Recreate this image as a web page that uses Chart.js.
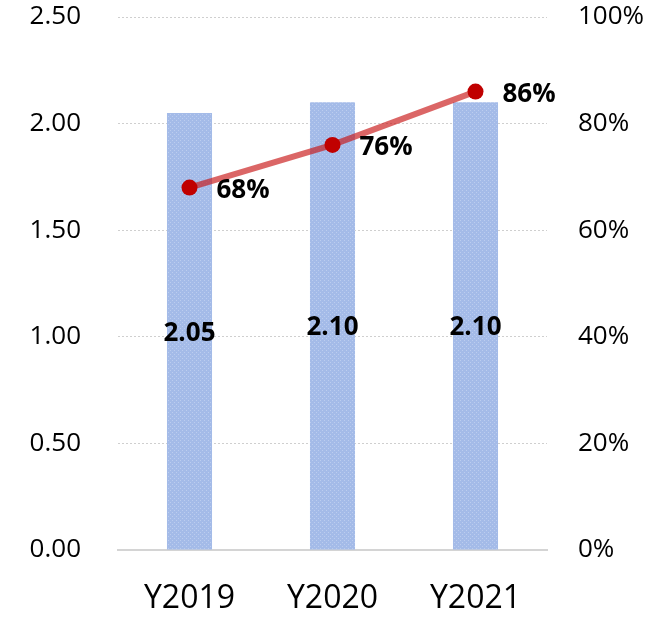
<!DOCTYPE html>
<html>
<head>
<meta charset="utf-8">
<script src="https://cdn.jsdelivr.net/npm/chart.js@4"></script>
<style>
  html, body { margin: 0; padding: 0; background: #fff; }
  #wrap { width: 660px; height: 617px; }
</style>
</head>
<body>
<div id="wrap"><canvas id="chart"></canvas></div>
<script>
const years = ['Y2019', 'Y2020', 'Y2021'];
const barValues = [2.05, 2.10, 2.10];
const lineValues = [68, 76, 86];
const leftTicks = [0, 0.5, 1, 1.5, 2, 2.5];

// small dotted tile for the bars
const tile = document.createElement('canvas');
tile.width = 4; tile.height = 4;
const tctx = tile.getContext('2d');
tctx.fillStyle = '#a4bbe8';
tctx.fillRect(0, 0, 4, 4);
tctx.fillStyle = '#bccdef';
tctx.fillRect(0, 0, 1, 1);
tctx.fillRect(2, 2, 1, 1);
const barPattern = tctx.createPattern(tile, 'repeat');

const ValueLabels = {
    id: 'ValueLabels',
    afterDatasetsDraw(chart) {
        const { ctx } = chart;
        ctx.save();
        ctx.font = 'bold 26px "Open Sans"';
        ctx.fillStyle = '#000';
        ctx.textBaseline = 'middle';

        // bar values in the middle of each bar (dataset 1 is the bars)
        ctx.textAlign = 'center';
        chart.getDatasetMeta(1).data.forEach((bar, i) => {
            const mid = (bar.y + bar.base) / 2;
            ctx.fillText(barValues[i].toFixed(2), bar.x, mid + 2);
        });

        // percentages right of each point
        ctx.textAlign = 'left';
        chart.getDatasetMeta(0).data.forEach((pt, i) => {
            ctx.fillText(lineValues[i] + '%', pt.x + 27, pt.y + 3);
        });
        ctx.restore();
    }
};

function noVertPadding(scale) {
    scale.paddingTop = 0;
    scale.paddingBottom = 0;
}

new Chart(document.getElementById('chart'), {
    plugins: [ValueLabels],
    data: {
        labels: years,
        datasets: [
            {
                type: 'line',
                label: 'ratio',
                data: lineValues,
                yAxisID: 'y1',
                borderColor: 'rgba(200, 20, 20, 0.65)',
                borderWidth: 6,
                pointRadius: 8,
                pointBackgroundColor: '#c00000',
                pointBorderColor: '#c00000',
                pointBorderWidth: 0,
                order: 0,
            },
            {
                type: 'bar',
                label: 'value',
                data: barValues,
                yAxisID: 'y',
                backgroundColor: barPattern,
                categoryPercentage: 1,
                barPercentage: 0.315,
                order: 1,
            },
        ],
    },
    options: {
        responsive: true,
        maintainAspectRatio: false,
        animation: false,
        layout: { padding: { top: 17, left: 0, right: 0, bottom: 0 } },
        plugins: {
            legend: { display: false },
            tooltip: { enabled: false },
        },
        scales: {
            x: {
                grid: { display: false, drawTicks: false },
                border: { color: '#d4d4d4', width: 2 },
                ticks: {
                    color: '#000',
                    padding: 30,
                    font: { family: 'Open Sans', size: 32 },
                },
                afterFit(scale) { scale.height = 67; },
            },
            y: {
                position: 'left',
                min: 0,
                max: 2.5,
                afterBuildTicks(scale) { scale.ticks = leftTicks.map(v => ({ value: v })); },
                grid: {
                    drawTicks: false,
                    color: (c) => c.tick && c.tick.value === 0 ? 'rgba(0,0,0,0)' : '#cfcfcf',
                    lineWidth: 1,
                },
                border: { display: false, dash: [2, 2] },
                ticks: {
                    color: '#000',
                    padding: 37,
                    font: { family: 'Open Sans', size: 26 },
                    callback: (v) => Number(v).toFixed(2),
                },
                afterFit(scale) { scale.width = 118; noVertPadding(scale); },
            },
            y1: {
                position: 'right',
                min: 0,
                max: 100,
                grid: { display: false, drawTicks: false },
                border: { display: false },
                ticks: {
                    stepSize: 20,
                    color: '#000',
                    padding: 31,
                    font: { family: 'Open Sans', size: 26 },
                    callback: (v) => v + '%',
                },
                afterFit(scale) { scale.width = 113; noVertPadding(scale); },
            },
        },
    },
});
</script>
</body>
</html>
